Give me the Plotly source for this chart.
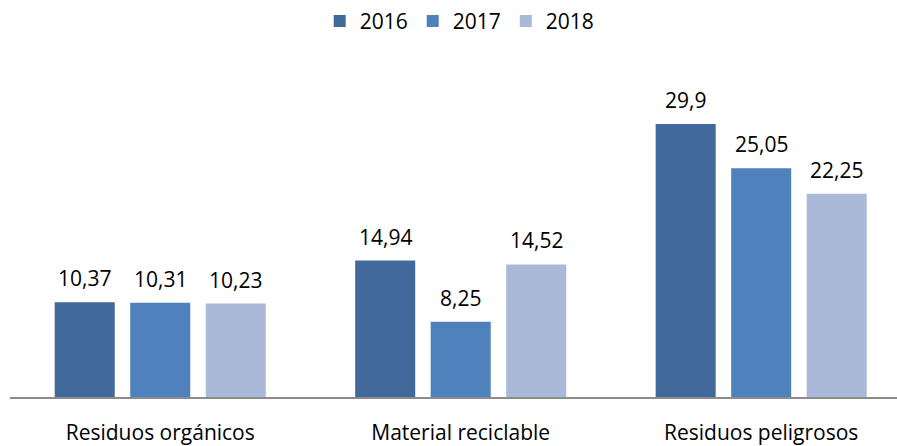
import plotly.graph_objects as go

categories = ["Residuos orgánicos", "Material reciclable", "Residuos peligrosos"]
years = ["2016", "2017", "2018"]
values_2016 = [10.37, 14.94, 29.9]
values_2017 = [10.31, 8.25, 25.05]
values_2018 = [10.23, 14.52, 22.25]
labels_2016 = ["10,37", "14,94", "29,9"]
labels_2017 = ["10,31", "8,25", "25,05"]
labels_2018 = ["10,23", "14,52", "22,25"]
colors = ["#41699B", "#4F81BD", "#AAB9D8"]

FONT = "Open Sans"
series = [values_2016, values_2017, values_2018]
labels = [labels_2016, labels_2017, labels_2018]

fig = go.Figure()
for yr, vals, col in zip(years, series, colors):
    fig.add_trace(go.Bar(x=categories, y=vals, name=yr, marker=dict(color=col, line=dict(width=0))))

slot_px = 75.5
annotations = []
for i, (vals, labs) in enumerate(zip(series, labels)):
    for c, v, t in zip(categories, vals, labs):
        annotations.append(dict(x=c, y=v, text=t, showarrow=False, xref="x", yref="y",
                                xanchor="center", yanchor="bottom", xshift=(i - 1) * slot_px,
                                yshift=8, font=dict(family=FONT, size=21, color="#000000")))

fig.update_layout(
    width=897, height=446,
    margin=dict(l=10, r=0, t=60, b=49, autoexpand=False),
    paper_bgcolor="white", plot_bgcolor="white",
    barmode="group", bargap=0.246, bargroupgap=0.205,
    font=dict(family=FONT, size=21, color="#000000"),
    showlegend=True,
    legend=dict(orientation="h", x=0.507, xanchor="center", yref="container", y=0.998, yanchor="top",
                font=dict(family=FONT, size=21), itemwidth=30, traceorder="normal"),
    annotations=annotations,
    xaxis=dict(range=[-0.5, 2.452], showline=True, linecolor="#8C8C8C", linewidth=1.5,
               showgrid=False, ticks="", ticklabelstandoff=16, tickfont=dict(family=FONT, size=21),
               automargin=False),
    yaxis=dict(range=[0, 36.9], visible=False, showgrid=False),
    hovermode=False,
)

fig.write_html("out.html", config={"displayModeBar": False},
               post_script="document.body.style.margin='0';")
